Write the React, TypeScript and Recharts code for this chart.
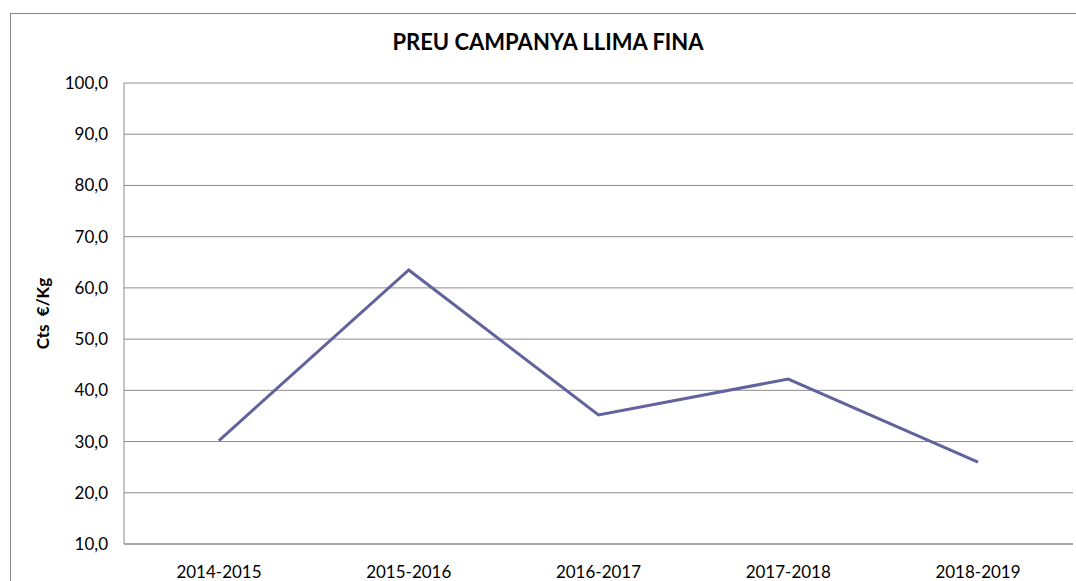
import React from 'react';
import { LineChart, Line, XAxis, YAxis, CartesianGrid } from 'recharts';

const seasons = ['2014-2015', '2015-2016', '2016-2017', '2017-2018', '2018-2019'];
const prices = [30.2, 63.5, 35.2, 42.2, 26.0];
const yTicks = [10, 20, 30, 40, 50, 60, 70, 80, 90, 100];

const data = seasons.map((s, i) => ({ season: s, price: prices[i] }));

const FONT = 'Lato, "Open Sans", sans-serif';

export default function App() {
  return (
    <div style={{ position: 'absolute', left: 0, top: 0, width: 1076, height: 581, background: '#fff', overflow: 'hidden', fontFamily: FONT }}>
      <div style={{ position: 'absolute', left: 10, top: 13, width: 1100, height: 600, border: '1px solid #868686', boxSizing: 'border-box' }} />
      <div style={{ position: 'absolute', left: 0, width: 1096, top: 28, lineHeight: '28px', textAlign: 'center', fontWeight: 700, fontSize: 22, color: '#000', fontFamily: FONT }}>
        PREU CAMPANYA LLIMA FINA
      </div>
      <div style={{ position: 'absolute', left: 0, top: 0 }}>
        <LineChart width={1076} height={581} data={data} margin={{ top: 83, right: 3, bottom: 0, left: 0 }}>
          <CartesianGrid vertical={false} stroke="#8c8c8c" strokeWidth={1} />
          <XAxis
            dataKey="season"
            height={37}
            tickSize={0}
            tickMargin={22}
            padding={{ left: 95, right: 95 }}
            interval={0}
            axisLine={{ stroke: '#8c8c8c' }}
            tick={{ fill: '#000', fontSize: 17, fontFamily: FONT }}
          />
          <YAxis
            domain={[10, 100]}
            ticks={yTicks}
            width={124}
            tickSize={0}
            tickMargin={16}
            interval={0}
            axisLine={{ stroke: '#8c8c8c' }}
            tickFormatter={(v: number) => v.toFixed(1).replace('.', ',')}
            tick={{ fill: '#000', fontSize: 17, fontFamily: FONT }}
            label={{ value: 'Cts\u00a0\u00a0€/Kg', angle: -90, position: 'center', dx: -19, style: { fontWeight: 700, fontSize: 17, fill: '#000', fontFamily: FONT } }}
          />
          <Line
            type="linear"
            dataKey="price"
            stroke="#62629c"
            strokeWidth={3}
            dot={false}
            activeDot={false}
            isAnimationActive={false}
          />
        </LineChart>
      </div>
    </div>
  );
}
